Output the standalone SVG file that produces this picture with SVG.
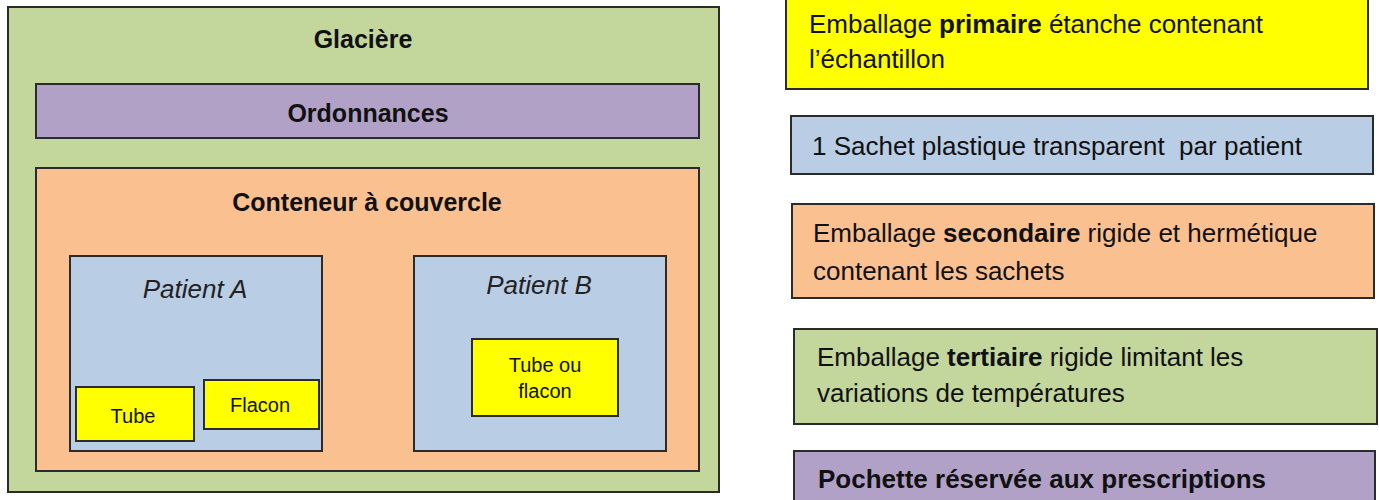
<svg xmlns="http://www.w3.org/2000/svg" width="1379" height="500" viewBox="0 0 1379 500">
<style>
.n{stroke:#2b2b2b;stroke-width:2}
.g{fill:#C3D69B}.p{fill:#B2A1C7}.o{fill:#FAC090}.b{fill:#B9CDE5}.y{fill:#FFFF00}
text{font-family:"Liberation Sans",Arial,sans-serif;fill:#111}
.t{font-size:25px;font-weight:bold;text-anchor:middle}
.pt{font-size:26px;font-style:italic;text-anchor:middle;fill:#222}
.s{font-size:20px;text-anchor:middle}
.r{font-size:26px}
.bd{font-weight:bold}
</style>
<rect width="1379" height="500" fill="#fff"/>
<g id="glaciere">
<rect class="n g" x="8" y="7" width="711" height="485"/>
<text class="t" x="363" y="48">Glacière</text>
</g>
<g id="ordonnances">
<rect class="n p" x="36" y="84" width="663" height="54"/>
<text class="t" x="368" y="122">Ordonnances</text>
</g>
<g id="conteneur">
<rect class="n o" x="36" y="168" width="663" height="303"/>
<text class="t" x="367" y="211">Conteneur à couvercle</text>
</g>
<g id="patientA">
<rect class="n b" x="70" y="256" width="252" height="195"/>
<text class="pt" x="195" y="298">Patient A</text>
</g>
<g id="tube">
<rect class="n y" x="76" y="387" width="118" height="54"/>
<text class="s" x="133" y="423">Tube</text>
</g>
<g id="flacon">
<rect class="n y" x="204" y="380" width="115" height="49"/>
<text class="s" x="260" y="412">Flacon</text>
</g>
<g id="patientB">
<rect class="n b" x="414" y="256" width="252" height="195"/>
<text class="pt" x="539" y="294">Patient B</text>
</g>
<g id="tubeouflacon">
<rect class="n y" x="472" y="339" width="146" height="77"/>
<text class="s" x="545" y="372">Tube ou</text>
<text class="s" x="545" y="398">flacon</text>
</g>
<g id="leg-primaire">
<rect class="n y" x="786" y="-5" width="582" height="94"/>
<text class="r" x="809" y="33">Emballage <tspan class="bd">primaire</tspan> étanche contenant</text>
<text class="r" x="809" y="68">l’échantillon</text>
</g>
<g id="leg-sachet">
<rect class="n b" x="791" y="116" width="582" height="58"/>
<text class="r" x="812" y="155" xml:space="preserve">1 Sachet plastique transparent  par patient</text>
</g>
<g id="leg-secondaire">
<rect class="n o" x="792" y="204" width="582" height="94"/>
<text class="r" x="813" y="242">Emballage <tspan class="bd">secondaire</tspan> rigide et hermétique</text>
<text class="r" x="813" y="280">contenant les sachets</text>
</g>
<g id="leg-tertiaire">
<rect class="n g" x="794" y="329" width="583" height="95"/>
<text class="r" x="817" y="366">Emballage <tspan class="bd">tertiaire</tspan> rigide limitant les</text>
<text class="r" x="817" y="402">variations de températures</text>
</g>
<g id="leg-pochette">
<rect class="n p" x="794" y="451" width="581" height="60"/>
<text class="r bd" x="818" y="488">Pochette réservée aux prescriptions</text>
</g>
<g id="connectors"/>
</svg>
